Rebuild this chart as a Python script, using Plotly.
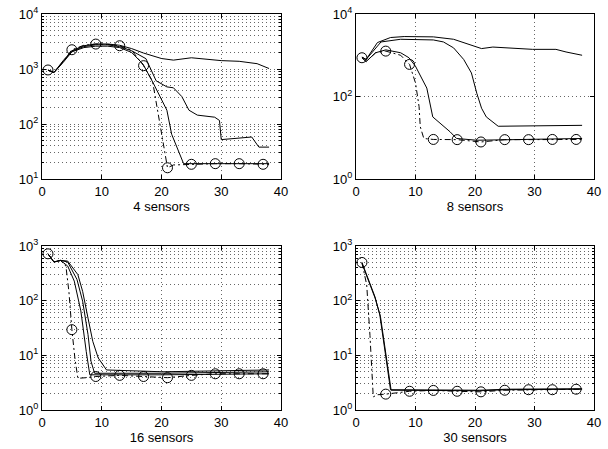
import plotly.graph_objects as go

# ---------------- data ----------------
panel_titles = ["4 sensors", "8 sensors", "16 sensors", "30 sensors"]
x_ticks = [0, 10, 20, 30, 40]

# 4 sensors
s4_a_x = [1, 2, 3.5, 5, 7, 9, 11, 13, 15, 17, 20, 22, 25, 28, 30, 33, 36, 38]
s4_a_y = [950, 860, 1400, 2150, 2650, 2850, 2850, 2700, 2350, 1950, 1550, 1450, 1600, 1500, 1420, 1380, 1250, 1020]
s4_b_x = [1, 2, 3.5, 5, 7, 9, 11, 13, 15, 17.4, 19.1, 20.9, 22, 23.4, 24.6, 26, 28.9, 29.7, 30, 35.1, 36.3, 38]
s4_b_y = [950, 860, 1350, 2100, 2550, 2750, 2750, 2550, 2150, 1540, 610, 473, 455, 316, 178, 145, 133, 116, 52, 58, 38, 38]
s4_c_x = [1, 2, 3.5, 5, 7, 9, 11, 13, 15, 16.9, 18.6, 19.7, 20.9, 21.7, 22.6, 23.7, 30, 38]
s4_c_y = [950, 860, 1300, 2050, 2450, 2600, 2600, 2450, 2000, 1230, 560, 316, 178, 65, 36, 19, 19, 19]
s4_d_x = [1, 2, 3.5, 5, 7, 9, 11, 13, 15, 17, 18.5, 19.5, 20.5, 21, 22, 25, 29, 33, 37, 38]
s4_d_y = [960, 880, 1350, 2240, 2700, 2840, 2800, 2650, 2200, 1150, 600, 150, 35, 16, 18, 18.5, 19, 19, 18.5, 18.5]
s4_m_x = [1, 5, 9, 13, 17, 21, 25, 29, 33, 37]
s4_m_y = [960, 2240, 2840, 2650, 1150, 16, 18.5, 19, 19, 18.5]

# 8 sensors
s8_a_x = [1, 1.7, 3.6, 5.8, 8.1, 13, 16.4, 19.7, 21.1, 23, 26.4, 29.7, 33.6, 35.3, 38]
s8_a_y = [900, 790, 2030, 2690, 2840, 2790, 2440, 1670, 1450, 1580, 1450, 1390, 1390, 1200, 1000]
s8_b_x = [1, 1.7, 4.2, 7.5, 13, 14.7, 16.4, 18.1, 19.4, 20.3, 21.1, 21.9, 23.9, 38]
s8_b_y = [900, 790, 2100, 2440, 2350, 2100, 1510, 790, 372, 120, 52, 32, 19, 20]
s8_c_x = [1, 1.7, 3.3, 5, 7.5, 8.9, 10, 11.1, 11.9, 12.9, 14.2, 15.8, 16.9, 20.3, 38]
s8_c_y = [880, 700, 1150, 1350, 1150, 870, 540, 280, 160, 32, 22, 14, 9.6, 8.7, 9.6]
s8_d_x = [1, 1.7, 3.3, 5, 7.5, 9, 10, 10.6, 10.8, 11.4, 13, 17, 21, 25, 29, 33, 37, 38]
s8_d_y = [870, 700, 1150, 1260, 1000, 600, 213, 57, 18.5, 9.6, 9.1, 9.0, 7.9, 9.0, 9.0, 9.1, 9.1, 9.1]
s8_m_x = [1, 5, 9, 13, 17, 21, 25, 29, 33, 37]
s8_m_y = [870, 1260, 600, 9.1, 9.0, 7.9, 9.0, 9.0, 9.1, 9.1]

# 16 sensors
s16_a_x = [1, 2, 3.1, 4.3, 6, 6.8, 7.7, 8.5, 9.4, 10.8, 20.2, 38]
s16_a_y = [720, 510, 545, 530, 300, 148, 48, 18, 9, 5.4, 5.0, 5.4]
s16_b_x = [1, 2, 3.1, 4.3, 5.85, 6.8, 7.7, 8.2, 8.8, 20, 38]
s16_b_y = [720, 510, 545, 510, 245, 98, 24, 7.8, 4.7, 4.7, 5.0]
s16_c_x = [1, 2, 3.1, 4.3, 5.4, 6.5, 7.4, 8, 20, 38]
s16_c_y = [720, 510, 545, 430, 228, 65, 11.8, 4.4, 4.4, 4.6]
s16_d_x = [1, 2, 3.1, 4, 4.5, 5, 5.5, 6, 7.4, 9, 13, 17, 21, 25, 29, 33, 37, 38]
s16_d_y = [720, 510, 545, 430, 148, 29.5, 9, 3.8, 3.9, 4.1, 4.3, 4.1, 3.9, 4.3, 4.6, 4.6, 4.6, 4.6]
s16_m_x = [1, 5, 9, 13, 17, 21, 25, 29, 33, 37]
s16_m_y = [720, 29.5, 4.1, 4.3, 4.1, 3.9, 4.3, 4.6, 4.6, 4.6]

# 30 sensors
s30_a_x = [1, 1.8, 2.6, 3.2, 4, 4.9, 5.8, 20.8, 25.3, 38]
s30_a_y = [500, 295, 170, 117, 55, 11.7, 2.35, 2.3, 2.4, 2.45]
s30_b_x = [1, 1.8, 2.6, 3.2, 4.1, 5.0, 5.9, 20.8, 25.3, 38]
s30_b_y = [480, 280, 160, 112, 52, 11.0, 2.3, 2.25, 2.35, 2.4]
s30_d_x = [1, 1.8, 2.35, 2.6, 2.9, 3.6, 5, 9, 13, 17, 21, 25, 29, 33, 37, 38]
s30_d_y = [500, 194, 23, 6.6, 1.74, 1.9, 1.95, 2.2, 2.28, 2.2, 2.15, 2.3, 2.35, 2.35, 2.4, 2.4]
s30_m_x = [1, 5, 9, 13, 17, 21, 25, 29, 33, 37]
s30_m_y = [500, 1.95, 2.2, 2.28, 2.2, 2.15, 2.3, 2.35, 2.35, 2.4]

# ---------------- figure ----------------
panels = [
    dict(solid=[(s4_a_x, s4_a_y), (s4_b_x, s4_b_y), (s4_c_x, s4_c_y)], dash=(s4_d_x, s4_d_y),
         mark=(s4_m_x, s4_m_y), dec=(1, 4), majors=[1, 2, 3, 4], minor=True),
    dict(solid=[(s8_a_x, s8_a_y), (s8_b_x, s8_b_y), (s8_c_x, s8_c_y)], dash=(s8_d_x, s8_d_y),
         mark=(s8_m_x, s8_m_y), dec=(0, 4), majors=[0, 2, 4], minor=False),
    dict(solid=[(s16_a_x, s16_a_y), (s16_b_x, s16_b_y), (s16_c_x, s16_c_y)], dash=(s16_d_x, s16_d_y),
         mark=(s16_m_x, s16_m_y), dec=(0, 3), majors=[0, 1, 2, 3], minor=True),
    dict(solid=[(s30_a_x, s30_a_y), (s30_b_x, s30_b_y)], dash=(s30_d_x, s30_d_y),
         mark=(s30_m_x, s30_m_y), dec=(0, 3), majors=[0, 1, 2, 3], minor=True),
]

W, H = 608, 449
xdoms = [(42 / W, 281 / W), (356 / W, 594 / W)]
ydoms = [(1 - 179 / H, 1 - 14 / H), (1 - 410 / H, 1 - 246 / H)]

FONT = "Liberation Sans, Arial, Helvetica, sans-serif"
GRID = "#666666"
GDASH = "1px,3px"

fig = go.Figure()
layout = dict(width=W, height=H, margin=dict(l=0, r=0, t=0, b=0, autoexpand=False),
              paper_bgcolor="white", plot_bgcolor="white", showlegend=False,
              font=dict(family=FONT, size=13, color="black"))

for i, p in enumerate(panels):
    n = i + 1
    xa = "x" if n == 1 else f"x{n}"
    ya = "y" if n == 1 else f"y{n}"
    for sx, sy in p["solid"]:
        fig.add_trace(go.Scatter(x=sx, y=sy, mode="lines", line=dict(color="black", width=1),
                                 xaxis=xa, yaxis=ya, hoverinfo="skip"))
    dx, dy = p["dash"]
    fig.add_trace(go.Scatter(x=dx, y=dy, mode="lines", line=dict(color="black", width=1, dash="6px,3px,2px,3px"),
                             xaxis=xa, yaxis=ya, hoverinfo="skip"))
    mx, my = p["mark"]
    fig.add_trace(go.Scatter(x=mx, y=my, mode="markers",
                             marker=dict(symbol="circle-open", size=10, color="black", line=dict(width=1)),
                             xaxis=xa, yaxis=ya, hoverinfo="skip"))

    r, c = divmod(i, 2)
    lo, hi = p["dec"]
    xkey = "xaxis" if n == 1 else f"xaxis{n}"
    ykey = "yaxis" if n == 1 else f"yaxis{n}"
    layout[xkey] = dict(domain=list(xdoms[c]), anchor=ya, range=[0, 40], automargin=False,
                        tickmode="array", tickvals=x_ticks, ticktext=[str(v) for v in x_ticks],
                        showgrid=True, gridcolor=GRID, griddash=GDASH, gridwidth=1,
                        showline=True, linecolor="black", linewidth=1, mirror="ticks",
                        ticks="inside", ticklen=4, tickcolor="black", zeroline=False,
                        tickfont=dict(size=13),
                        title=dict(text=panel_titles[i], font=dict(size=13), standoff=3))
    ydict = dict(domain=list(ydoms[r]), anchor=xa, type="log", range=[lo, hi], automargin=False,
                 tickmode="array", tickvals=[10 ** k for k in p["majors"]],
                 ticktext=[f"10<sup>{k}</sup>" for k in p["majors"]],
                 showgrid=True, gridcolor=GRID, griddash=GDASH, gridwidth=1,
                 showline=True, linecolor="black", linewidth=1, mirror="ticks",
                 ticks="inside", ticklen=4, tickcolor="black", zeroline=False,
                 tickfont=dict(size=13))
    if p["minor"]:
        mv = [m * 10 ** k for k in range(lo, hi) for m in range(2, 10)]
        ydict["minor"] = dict(tickmode="array", tickvals=mv, showgrid=True, gridcolor=GRID,
                              griddash=GDASH, gridwidth=1, ticks="inside", ticklen=2, tickcolor="black")
    layout[ykey] = ydict

fig.update_layout(**layout)
fig.write_html("out.html", config={"displayModeBar": False},
               post_script="document.body.style.margin='0';document.body.style.overflow='hidden';")
